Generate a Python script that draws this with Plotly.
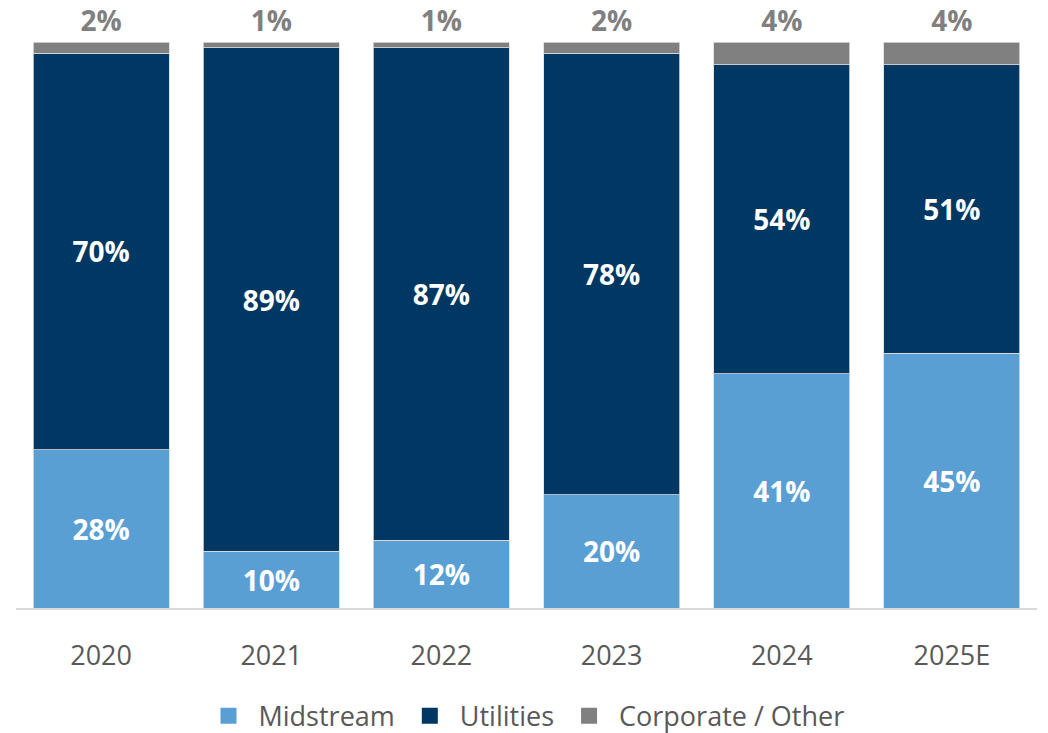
import plotly.graph_objects as go

years = ["2020", "2021", "2022", "2023", "2024", "2025E"]
midstream = [28, 10, 12, 20, 41, 45]
utilities = [70, 89, 87, 78, 54, 51]
corporate_other = [2, 1, 1, 2, 4, 4]

series = [
    ("Midstream", midstream, "#5A9FD4", "white", "inside"),
    ("Utilities", utilities, "#003763", "white", "inside"),
    ("Corporate / Other", corporate_other, "#808080", "#808080", "outside"),
]

FONT = "Open Sans, Noto Sans, sans-serif"

fig = go.Figure()
for name, vals, color, tcolor, tpos in series:
    fig.add_trace(go.Bar(
        x=years, y=vals, name=name,
        marker=dict(color=color, line=dict(color="#dcdcdc", width=0.8)),
        text=[f"{v}%" for v in vals],
        textposition=tpos,
        insidetextanchor="middle",
        textfont=dict(family=FONT, size=28, color=tcolor, weight="bold"),
        outsidetextfont=dict(family=FONT, size=28, color=tcolor, weight="bold"),
        constraintext="none",
        cliponaxis=False,
        showlegend=False,
        hoverinfo="skip",
    ))

# legend entries with square swatches
for name, vals, color, tcolor, tpos in series:
    fig.add_trace(go.Scatter(
        x=[None], y=[None], mode="markers", name=name,
        legendgroup=name,
        marker=dict(symbol="square", size=18, color=color),
        showlegend=True,
    ))

fig.update_layout(
    barmode="stack",
    barnorm="percent",
    bargap=0.2,
    width=1048, height=733,
    margin=dict(l=16, r=11, t=42, b=125),
    paper_bgcolor="white",
    plot_bgcolor="white",
    font=dict(family=FONT, color="#595959"),
    legend=dict(
        orientation="h", xref="container", yref="container",
        x=0.5, xanchor="center", y=0.023, yanchor="middle",
        font=dict(size=27, color="#595959"),
        traceorder="normal",
        itemsizing="trace", itemwidth=50,
    ),
    xaxis=dict(
        showline=True, linecolor="#d9d9d9", linewidth=2,
        ticks="", tickfont=dict(size=27, color="#595959"),
        ticklabelstandoff=23, automargin=False,
    ),
    yaxis=dict(range=[0, 100.02], visible=False, showgrid=False),
)

fig.write_html("out.html")
